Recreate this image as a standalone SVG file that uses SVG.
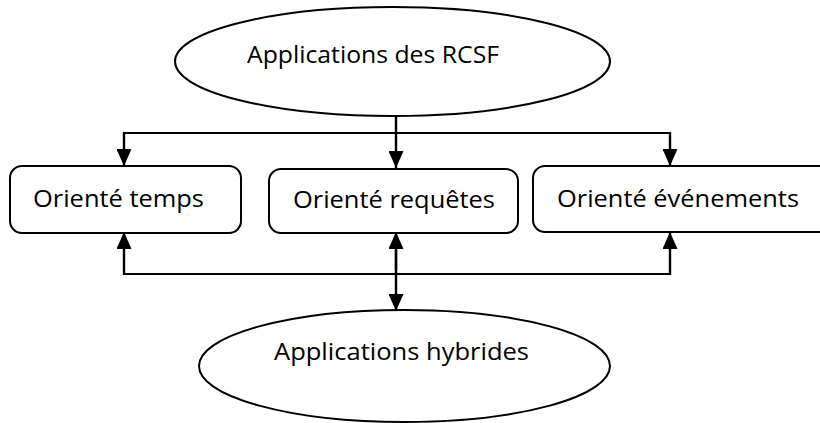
<svg xmlns="http://www.w3.org/2000/svg" width="820" height="423" viewBox="0 0 820 423">
  <defs>
    <marker id="arrow" viewBox="0 0 17 15" refX="17" refY="7.5" markerWidth="17" markerHeight="15" markerUnits="userSpaceOnUse" orient="auto">
      <path d="M0,0 L17,7.5 L0,15 Z" fill="#000"/>
    </marker>
    <style>
      .shape { fill: #fff; stroke: #000; stroke-width: 2; }
      .label { font-family: "Open Sans", "Liberation Sans", sans-serif; font-size: 24px; fill: #000; text-anchor: start; }
      .wire { fill: none; stroke: #000; stroke-width: 2; }
      .shaft { fill: none; stroke: #000; stroke-width: 2.4; }
    </style>
  </defs>
  <rect width="820" height="423" fill="#fff"/>

  <g id="connectors">
    <!-- trunk from the top ellipse and the upper distribution bus -->
    <line class="shaft" x1="396" y1="110" x2="396" y2="168" marker-end="url(#arrow)"/>
    <line class="wire" x1="124" y1="133" x2="670" y2="133"/>
    <line class="shaft" x1="124" y1="132" x2="124" y2="166" marker-end="url(#arrow)"/>
    <line class="shaft" x1="670" y1="132" x2="670" y2="166" marker-end="url(#arrow)"/>
    <!-- lower collecting bus -->
    <line class="wire" x1="124" y1="274" x2="670" y2="274"/>
    <line class="shaft" x1="124" y1="275" x2="124" y2="232" marker-end="url(#arrow)"/>
    <line class="shaft" x1="670" y1="275" x2="670" y2="232" marker-end="url(#arrow)"/>
    <!-- two-way link between the middle box and the bottom ellipse -->
    <line class="shaft" x1="396" y1="270" x2="396" y2="232" marker-end="url(#arrow)"/>
    <line class="shaft" x1="396" y1="250" x2="396" y2="311" marker-end="url(#arrow)"/>
  </g>

  <g id="node-rcsf">
    <ellipse class="shape" cx="392.5" cy="61.5" rx="217.5" ry="54.5"/>
    <text class="label" x="247" y="63" textLength="252" lengthAdjust="spacingAndGlyphs">Applications des RCSF</text>
  </g>

  <g id="node-temps">
    <rect class="shape" x="10" y="166" width="231" height="67" rx="12" ry="12"/>
    <text class="label" x="33" y="207" textLength="171" lengthAdjust="spacingAndGlyphs">Orienté temps</text>
  </g>

  <g id="node-requetes">
    <rect class="shape" x="269" y="169" width="249" height="64" rx="12" ry="12"/>
    <text class="label" x="293" y="208" textLength="202" lengthAdjust="spacingAndGlyphs">Orienté requêtes</text>
  </g>

  <g id="node-evenements">
    <rect class="shape" x="533" y="166" width="300" height="66" rx="12" ry="12"/>
    <text class="label" x="557" y="207" textLength="242" lengthAdjust="spacingAndGlyphs">Orienté événements</text>
  </g>

  <g id="node-hybrides">
    <ellipse class="shape" cx="404.5" cy="366" rx="205.5" ry="56"/>
    <text class="label" x="274" y="360" textLength="255" lengthAdjust="spacingAndGlyphs">Applications hybrides</text>
  </g>
</svg>
